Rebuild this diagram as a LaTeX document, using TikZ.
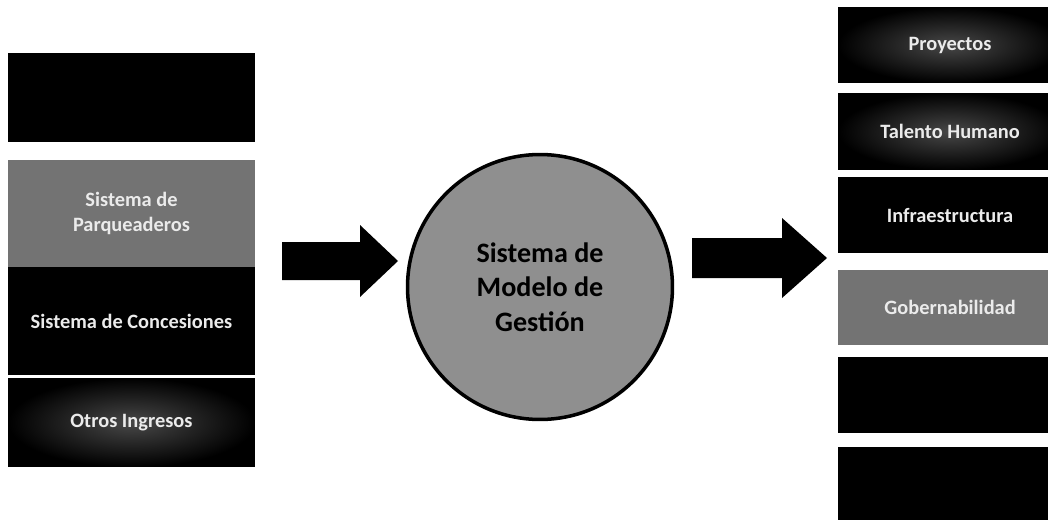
\documentclass[tikz,border=0pt]{standalone}
\usepackage{fontspec}
\setmainfont{Carlito}
\usetikzlibrary{shadings}

\definecolor{boxgray}{gray}{0.45}
\definecolor{discgray}{gray}{0.56}

\begin{document}
\begin{tikzpicture}[x=0.02cm, y=-0.02cm,
    box/.style={rectangle, inner sep=0pt, fill=black, text=white!92!black,
      align=center, font=\bfseries\fontsize{11.6}{14.2}\selectfont},
    leftbox/.style={box, minimum width=4.94cm},
    rightbox/.style={box, minimum width=4.48cm, minimum height=1.52cm},
    glow/.style={fill=none, inner color=black!72, outer color=black},
    graybox/.style={fill=boxgray},
    disc/.style={circle, draw=black, line width=2pt, fill=discgray,
      minimum size=5.3cm, align=center, font=\bfseries\fontsize{16}{19.5}\selectfont}]
  \clip (0,0) rectangle (1048,524);
  \fill[white] (0,0) rectangle (1048,524);

  % Draw the boxes on the left
  \node[leftbox, minimum height=1.78cm] (ltop) at (131.5,97.5) {};
  \node[leftbox, graybox, minimum height=2.14cm] (parq) at (131.5,213.5) {Sistema de\\Parqueaderos};
  \node[leftbox, minimum height=2.16cm] (conc) at (131.5,321) {Sistema de Concesiones};
  \node[leftbox, glow, minimum height=1.78cm] (otros) at (131.5,422.5) {Otros Ingresos};

  % Draw the circle
  \node[disc] (modelo) at (540,287) {Sistema de\\Modelo de\\Gesti\'on};

  % Draw the boxes on the right
  \node[rightbox, glow] (proy) at (950,45) {Proyectos};
  \node[rightbox, glow, minimum height=1.54cm] (talento) at (950,131.5) {Talento Humano};
  \node[rightbox] (infra) at (950,215) {Infraestructura};
  \node[rightbox, graybox, minimum height=1.5cm] (gober) at (950,307.5) {Gobernabilidad};
  \node[rightbox] (rfive) at (950,395) {};
  \node[rightbox, minimum height=1.46cm] (rsix) at (950,483.5) {};

  % Draw the two block arrows
  \coordinate (inarrow) at (282,260);
  \coordinate (outarrow) at (692,257.5);
  \fill[black] (inarrow) ++(0,-18) -- ++(78,0) -- ++(0,-17) -- ++(38,36)
    -- ++(-38,36) -- ++(0,-17) -- ++(-78,0) -- cycle;
  \fill[black] (outarrow) ++(0,-19.5) -- ++(90,0) -- ++(0,-20) -- ++(45,40)
    -- ++(-45,40) -- ++(0,-20) -- ++(-90,0) -- cycle;

\end{tikzpicture}
\end{document}
